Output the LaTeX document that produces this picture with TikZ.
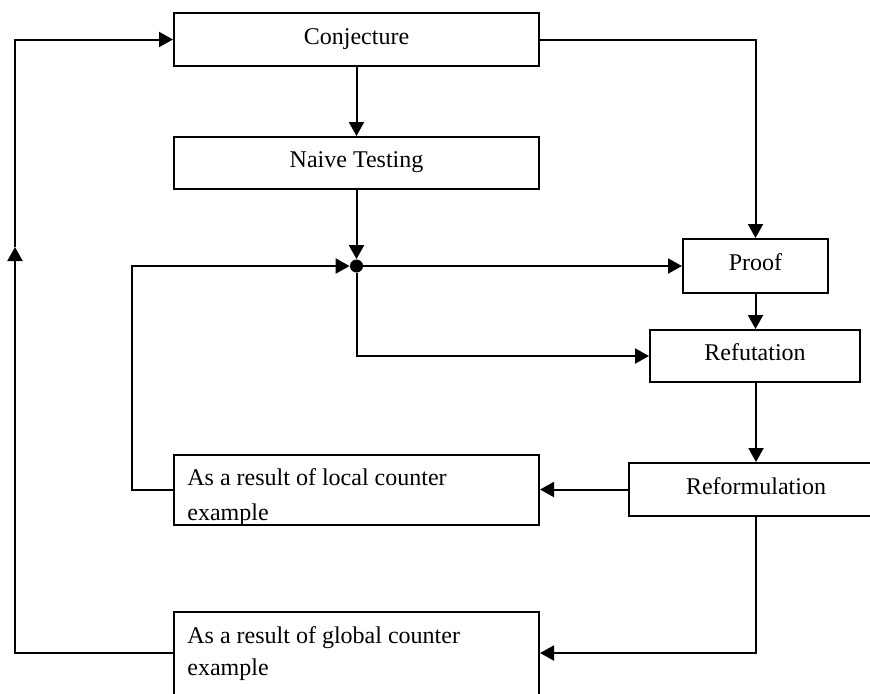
\documentclass[tikz,border=0pt]{standalone}
\usepackage{fontspec}
\setmainfont{Liberation Serif}
\usetikzlibrary{arrows.meta}
\begin{document}
\begin{tikzpicture}[x=0.5pt,y=-0.5pt,
  box/.style={draw, line width=1pt, rectangle, inner sep=0pt,
    text height=8pt, text depth=3.5pt, font=\fontsize{12}{14}\selectfont},
  frame/.style={draw, line width=1pt, rectangle, inner sep=0pt},
  flow/.style={line width=1pt, line join=miter, -{Triangle[length=7pt,width=7.5pt]}},
  note/.style={anchor=base west, inner sep=0pt, font=\fontsize{12}{14}\selectfont}]
\useasboundingbox (0,0) rectangle (870,693);
\clip (0,0) rectangle (870,693);

% main boxes
\node[box, minimum width=182.5pt, minimum height=26.5pt] (conj)   at (356.5,39.5) {Conjecture};
\node[box, minimum width=182.5pt, minimum height=26pt]   (naive)  at (356.5,163)  {Naive Testing};
\node[box, minimum width=72.5pt,  minimum height=27pt]   (proof)  at (755.5,266)  {Proof};
\node[box, minimum width=105pt,   minimum height=26pt]   (refut)  at (755,356)    {Refutation};
\node[box, minimum width=127pt,   minimum height=26.5pt] (reform) at (756,489.5)  {Reformulation};

% result boxes with two-line captions
\node[frame, minimum width=182.5pt, minimum height=35pt] (local) at (356.5,490) {};
\node[frame, minimum width=182.5pt, minimum height=44pt] (glob)  at (356.5,656) {};

\begin{scope}
  \clip ([shift={(0.5pt,0.5pt)}]local.south west) rectangle ([shift={(-0.5pt,-0.5pt)}]local.north east);
  \node[note] (localA) at (187,485) {As a result of local counter};
  \node[note] (localB) at (187,520) {example};
\end{scope}
\node[note] (globA) at (187,643) {As a result of global counter};
\node[note] (globB) at (187,675) {example};

% junction point
\node[circle, fill, inner sep=0pt, minimum size=6.5pt] (jn) at (356.5,266) {};
\coordinate (loopL) at (132,266);
\coordinate (leftmid) at (15,247);

% connectors
\draw[flow] (conj.east) -| (proof.north);
\draw[flow] (conj.south) -- (naive.north);
\draw[flow] (naive.south) -- (jn);
\draw[flow] (jn) -- (proof.west);
\draw[flow] (jn) |- (refut.west);
\draw[flow] (local.west) -| (loopL) -- (jn);
\draw[flow] (proof.south) -- (proof.south |- refut.north);
\draw[flow] (refut.south -| reform.north) -- (reform.north);
\draw[flow] (reform.west) -- (reform.west -| local.east);
\draw[flow] (reform.south) |- ([yshift=1.5pt]glob.east);
\draw[flow] ([yshift=1.5pt]glob.west) -| (leftmid);
\draw[flow] (leftmid) |- (conj.west);
\end{tikzpicture}
\end{document}
